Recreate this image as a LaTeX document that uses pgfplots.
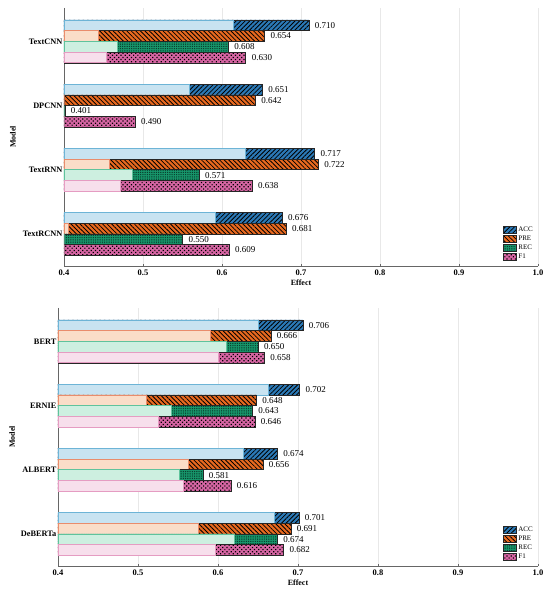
\documentclass[border=0pt]{standalone}
\usepackage{fontspec}
\setmainfont{Liberation Serif}
\usepackage{pgfplots}
\pgfplotsset{compat=1.18}
\usepackage{pgfplotstable}
\usetikzlibrary{patterns,patterns.meta}

\definecolor{accD}{HTML}{2B79B6}
\definecolor{accL}{HTML}{C8E3F1}
\definecolor{accB}{HTML}{6DB4D6}
\definecolor{preD}{HTML}{E8691F}
\definecolor{preL}{HTML}{FADDC8}
\definecolor{preB}{HTML}{E98C6C}
\definecolor{recD}{HTML}{17966B}
\definecolor{recL}{HTML}{CDEFE0}
\definecolor{recB}{HTML}{5FC39C}
\definecolor{f1D}{HTML}{D665A3}
\definecolor{f1L}{HTML}{F7DFEC}
\definecolor{f1B}{HTML}{E59CC2}

% g = group index; S = start of hatched part; E = value
\pgfplotstableread{
g accS accE preS preE recS recE f1S f1E
0 0.614 0.710 0.443 0.654 0.467 0.608 0.454 0.630
1 0.558 0.651 0.400 0.642 0.400 0.401 0.400 0.490
2 0.629 0.717 0.457 0.722 0.486 0.571 0.471 0.638
3 0.592 0.676 0.405 0.681 0.400 0.550 0.400 0.609
}\toptable
\pgfplotstableread{
g accS accE preS preE recS recE f1S f1E
0 0.650 0.706 0.591 0.666 0.611 0.650 0.600 0.658
1 0.663 0.702 0.510 0.648 0.542 0.643 0.525 0.646
2 0.632 0.674 0.563 0.656 0.552 0.581 0.557 0.616
3 0.671 0.701 0.576 0.691 0.620 0.674 0.597 0.682
}\bottable

\pgfplotsset{
  panel/.style={
    scale only axis, height=258pt,
    xbar, bar width=1,
    xmin=0.4, xmax=1.0, ymin=-1.62, ymax=22.5, y dir=reverse,
    xtick={0.4,0.5,0.6,0.7,0.8,0.9,1.0},
    xticklabel style={font=\fontsize{8.5}{10}\selectfont\bfseries,
      /pgf/number format/fixed, /pgf/number format/fixed zerofill,
      /pgf/number format/precision=1},
    ytick={1.5,7.5,13.5,19.5},
    yticklabel style={font=\fontsize{8.3}{10}\selectfont\bfseries, inner sep=1.5pt},
    axis x line*=bottom, axis y line*=left,
    axis line style={draw=black!60, line width=0.8pt},
    xmajorgrids, grid style={draw=gray!18, line width=0.5pt},
    tick align=inside, major tick length=2.5pt,
    xtick style={draw=black!60, line width=0.6pt}, ytick style={draw=none},
    /pgf/number format/assume math mode=true,
    xlabel={Effect}, ylabel={Model},
    label style={font=\fontsize{8}{9}\selectfont\bfseries},
    xlabel style={at={(axis description cs:0.5,0)}, anchor=center, yshift=-16.5pt},
    legend style={at={(1,0)}, anchor=south east, xshift=-2pt, yshift=3pt,
      draw=none, fill=none, font=\fontsize{7}{8}\selectfont,
      inner sep=1pt, row sep=-1.2pt, legend cell align=left},
  },
  hat/.style={bar shift=0pt, draw=black!85, line width=0.5pt,
    legend image code/.code={\draw[##1] (0pt,-3.4pt) rectangle (13pt,3.4pt);},
    point meta=x,
    nodes near coords={\pgfmathprintnumber[fixed,fixed zerofill,precision=3]{\pgfplotspointmeta}},
    every node near coord/.append style={font=\fontsize{9}{10}\selectfont, black, anchor=west, xshift=2.5pt}},
  lite/.style={bar shift=0pt, forget plot, line width=0.6pt},
  pACC/.style={hat, fill=accD, postaction={pattern={Lines[angle=45,distance=3.2pt,line width=0.8pt]}, pattern color=black}},
  pPRE/.style={hat, fill=preD, postaction={pattern={Lines[angle=-45,distance=3.2pt,line width=0.8pt]}, pattern color=black}},
  pREC/.style={hat, fill=recD, postaction={pattern={Dots[distance=1.8pt,radius=0.4pt]}, pattern color=black}},
  pF1/.style={hat, fill=f1D, postaction={pattern={Dots[angle=45,distance=3pt,radius=0.85pt]}, pattern color=black}},
}

\begin{document}
\begin{tikzpicture}
\useasboundingbox (0,0) rectangle (550pt,592pt);

\begin{axis}[panel, width=474pt, at={(64pt,326pt)}, anchor=south west,
  yticklabels={TextCNN,DPCNN,TextRNN,TextRCNN},
  ylabel style={at={(axis description cs:-0.1076,0.5)}, anchor=center}]
\addplot[pACC] table[x=accE, y expr=6*\thisrow{g}+0]{\toptable};
\addlegendentry{ACC}
\addplot[lite, fill=accL, draw=accB] table[x=accS, y expr=6*\thisrow{g}+0]{\toptable};
\addplot[pPRE] table[x=preE, y expr=6*\thisrow{g}+1]{\toptable};
\addlegendentry{PRE}
\addplot[lite, fill=preL, draw=preB] table[x=preS, y expr=6*\thisrow{g}+1]{\toptable};
\addplot[pREC] table[x=recE, y expr=6*\thisrow{g}+2]{\toptable};
\addlegendentry{REC}
\addplot[lite, fill=recL, draw=recB] table[x=recS, y expr=6*\thisrow{g}+2]{\toptable};
\addplot[pF1] table[x=f1E, y expr=6*\thisrow{g}+3]{\toptable};
\addlegendentry{F1}
\addplot[lite, fill=f1L, draw=f1B] table[x=f1S, y expr=6*\thisrow{g}+3]{\toptable};
\end{axis}

\begin{axis}[panel, width=480pt, at={(58pt,26pt)}, anchor=south west,
  yticklabels={BERT,ERNIE,ALBERT,DeBERTa},
  ylabel style={at={(axis description cs:-0.0958,0.5)}, anchor=center}]
\addplot[pACC] table[x=accE, y expr=6*\thisrow{g}+0]{\bottable};
\addlegendentry{ACC}
\addplot[lite, fill=accL, draw=accB] table[x=accS, y expr=6*\thisrow{g}+0]{\bottable};
\addplot[pPRE] table[x=preE, y expr=6*\thisrow{g}+1]{\bottable};
\addlegendentry{PRE}
\addplot[lite, fill=preL, draw=preB] table[x=preS, y expr=6*\thisrow{g}+1]{\bottable};
\addplot[pREC] table[x=recE, y expr=6*\thisrow{g}+2]{\bottable};
\addlegendentry{REC}
\addplot[lite, fill=recL, draw=recB] table[x=recS, y expr=6*\thisrow{g}+2]{\bottable};
\addplot[pF1] table[x=f1E, y expr=6*\thisrow{g}+3]{\bottable};
\addlegendentry{F1}
\addplot[lite, fill=f1L, draw=f1B] table[x=f1S, y expr=6*\thisrow{g}+3]{\bottable};
\end{axis}
\end{tikzpicture}
\end{document}
